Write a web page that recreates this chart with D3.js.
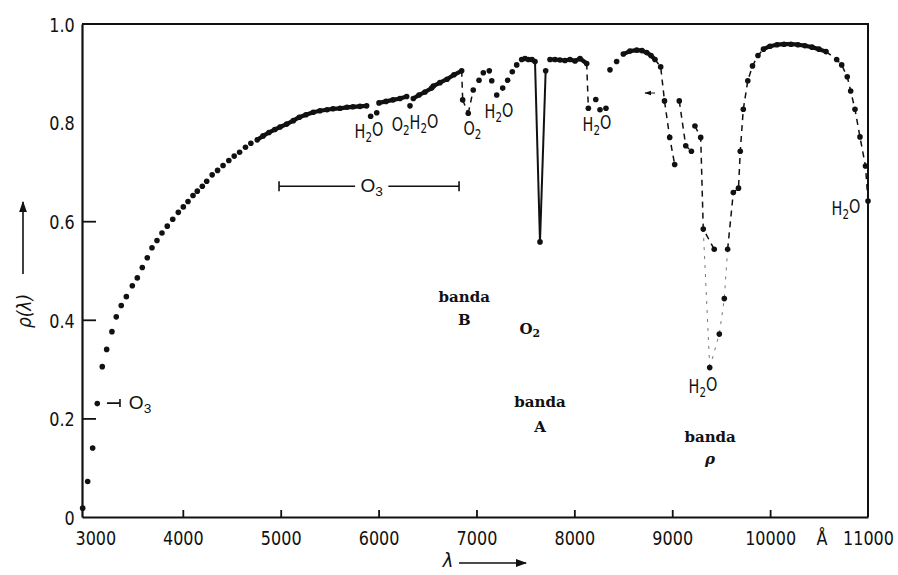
<!DOCTYPE html>
<html><head><meta charset="utf-8">
<script src="https://cdn.jsdelivr.net/npm/d3@7"></script>
<style>body{margin:0;background:#fff} svg{display:block}</style>
</head><body><svg id="c" width="898" height="575"></svg>
<script>
// ---- data ----
const wavelength = [2977,3028,3079,3126,3177,3222,3276,3320,3371,3423,3484,3535,3586,3637,3685,3736,3787,3841,3897,3954,4005,4053,4104,4148,4199,4244,
  4300,4355,4411,4470,4525,4580,4640,4695,4760,4820,4880,4940,4993,5061,5129,5190,5258,5333,5401,5473,5534,5606,5677,5738,5810,5878,
  5919,5981,6004,6076,6147,6219,6287,6321,6355,6413,6474,6542,6559,6627,6699,6770,6849,
  6859,6916,6967,7026,7070,7131,7156,7207,7268,7319,7366,7411,7462,7496,7530,7567,7598,
  7649,7707,7751,7802,7853,7904,7956,8007,8058,8126,8143,8219,8262,8323,
  8364,8432,8500,8568,8637,8691,8739,8783,8824,8882,
  8921,9072,8974,9025,9138,9196,9232,9291,9317,9429,9566,9532,9481,9383,9624,9677,9695,9726,9772,9820,9876,9932,
  9999,10070,10142,10213,10285,10356,10428,10499,10571,10680,10731,10788,10823,10867,10918,10974,11000];
const reflectance = [0.018,0.072,0.140,0.230,0.305,0.340,0.376,0.406,0.429,0.447,0.469,0.485,0.506,0.526,0.546,0.561,0.576,0.590,0.604,0.618,0.629,0.640,0.652,0.661,0.671,0.681,
  0.694,0.703,0.713,0.723,0.732,0.740,0.750,0.758,0.765,0.773,0.780,0.786,0.791,0.797,0.804,0.811,0.816,0.821,0.824,0.826,0.828,0.829,0.831,0.832,0.833,0.834,
  0.813,0.820,0.840,0.843,0.846,0.849,0.853,0.834,0.849,0.856,0.862,0.870,0.874,0.881,0.888,0.897,0.905,
  0.846,0.819,0.866,0.886,0.901,0.905,0.885,0.856,0.870,0.886,0.903,0.917,0.928,0.930,0.928,0.928,0.924,
  0.558,0.905,0.928,0.928,0.927,0.926,0.928,0.925,0.930,0.920,0.829,0.847,0.826,0.829,
  0.907,0.924,0.939,0.945,0.947,0.946,0.942,0.936,0.928,0.913,
  0.844,0.844,0.770,0.715,0.753,0.742,0.793,0.770,0.584,0.543,0.543,0.443,0.371,0.303,0.658,0.667,0.742,0.827,0.885,0.915,0.936,0.949,
  0.955,0.958,0.959,0.959,0.958,0.956,0.953,0.949,0.944,0.928,0.917,0.893,0.864,0.827,0.771,0.712,0.641];
// runs where the points merge into a continuous trace
const solidRuns = [[4700,5878],[6004,6287],[6355,6542],[6559,6849],[7462,7598],[7751,8126],[8500,8824],[9932,10571]];
// thin connectors of the O2 A band
const thinChains = [[7598,7649],[7649,7707]];
// dashed connectors inside absorption bands
const dashedChains = [[6849,6859],[6859,6916],[6916,6967],[8126,8143],[8824,8882,8921,8974,9025],[9072,9138,9196],
  [9232,9291,9317,9429],[9566,9624,9677,9695,9726,9772,9820,9876,9932],[10571,10680,10731,10788,10823,10867,10918,10974,11000]];
// faint dotted connectors at the bottom of the rho band
const faintChains = [[9317,9383],[9383,9481,9532,9566]];
const xTicks = [3000,4000,5000,6000,7000,8000,9000,10000,11000];
const xTickLabels = ["3000","4000","5000","6000","7000","8000","9000","10000","11000"];
const xInnerTicks = [4000,5000,6000,7000,8000,9000,10000];
const yTicks = [0,0.2,0.4,0.6,0.8,1.0];
const yTickLabels = ["0","0.2","0.4","0.6","0.8","1.0"];
const yInnerTicks = [0.2,0.4,0.6];
// molecule labels (condensed), at [wavelength, rho]
const moleculeText = ["H₂O","O₂H₂O","O₂","H₂O","H₂O","H₂O","H₂O"];
const moleculeLam  = [5902,6372,6959,7230,8231,9314,10775];
const moleculeRho  = [0.769,0.783,0.775,0.809,0.783,0.252,0.613];
// band labels (bold serif)
const bandText = ["banda","B","O₂","banda","A","banda","ρ"];
const bandLam  = [6875,6875,7545,7649,7649,9387,9387];
const bandRho  = [0.436,0.389,0.371,0.223,0.172,0.152,0.108];

// ---- drawing ----
const svg = d3.select("#c");
const x = d3.scaleLinear().domain([2970, 11000]).range([82, 868]);
const y = d3.scaleLinear().domain([0, 1]).range([517, 24]);
const ink = "#111";
const pts = wavelength.map((w,i)=>({w, r: reflectance[i]}));
const byW = new Map(pts.map(p=>[p.w,p]));
const subMap = {"₂":"2","₃":"3"};
function withSubs(textSel, str){
  let lowered = false;
  for (const ch of str){
    const isSub = ch in subMap;
    const ts = textSel.append("tspan").text(isSub ? subMap[ch] : ch);
    if (isSub && !lowered){ ts.attr("dy","0.28em").attr("font-size","72%"); lowered = true; }
    else if (isSub){ ts.attr("font-size","72%"); }
    else if (lowered){ ts.attr("dy","-0.28em"); lowered = false; }
  }
  return textSel;
}

// frame (top & right)
svg.append("path").attr("d", `M${x(2970)},${y(1)}H${x(11000)}V${y(0)}`)
  .attr("fill","none").attr("stroke",ink).attr("stroke-width",2);

// axes
const condensed = "scale(0.8,1)";
const gx = svg.append("g").attr("transform",`translate(0,${y(0)})`)
  .call(d3.axisBottom(x).tickValues(xTicks).tickSize(0).tickSizeOuter(0).tickFormat((d,i)=>xTickLabels[i]));
gx.select(".domain").attr("stroke",ink).attr("stroke-width",2.2);
gx.selectAll("text").attr("y",28).attr("dy",0).attr("font-size",20)
  .attr("font-family","DejaVu Sans, sans-serif").attr("fill",ink).attr("transform",condensed)
  .attr("dx",(d)=> d===3000 ? 13 : 0);
svg.append("g").attr("transform",`translate(0,${y(0)})`)
  .call(d3.axisBottom(x).tickValues(xInnerTicks).tickSize(-7).tickFormat(""))
  .call(g=>g.select(".domain").remove())
  .selectAll("line").attr("stroke",ink).attr("stroke-width",1.8);

const gy = svg.append("g").attr("transform",`translate(${x(2970)},0)`)
  .call(d3.axisLeft(y).tickValues(yTicks).tickSize(0).tickSizeOuter(0).tickFormat((d,i)=>yTickLabels[i]));
gy.select(".domain").attr("stroke",ink).attr("stroke-width",2.2);
gy.selectAll("text").attr("x",-9).attr("dy","0.36em").attr("font-size",20)
  .attr("font-family","DejaVu Sans, sans-serif").attr("fill",ink).attr("transform",condensed);
svg.append("g").attr("transform",`translate(${x(2970)},0)`)
  .call(d3.axisLeft(y).tickValues(yInnerTicks).tickSize(-14).tickFormat(""))
  .call(g=>g.select(".domain").remove())
  .selectAll("line").attr("stroke",ink).attr("stroke-width",1.8);

// arrow marker
svg.append("defs").append("marker").attr("id","ah").attr("viewBox","0 0 10 10")
  .attr("refX",9).attr("refY",5).attr("markerWidth",7).attr("markerHeight",7).attr("orient","auto")
  .append("path").attr("d","M0,1.5L10,5L0,8.5Z").attr("fill",ink);

// axis titles
svg.append("text").attr("transform","translate(448,567) scale(0.9,1)").attr("text-anchor","middle")
  .attr("font-family","DejaVu Sans, sans-serif").attr("font-style","italic").attr("font-size",20).attr("fill",ink).text("λ");
svg.append("line").attr("x1",459).attr("y1",563).attr("x2",526).attr("y2",563)
  .attr("stroke",ink).attr("stroke-width",1.6).attr("marker-end","url(#ah)");
svg.append("text").attr("transform","translate(31,311) rotate(-90) scale(0.85,1)").attr("text-anchor","middle")
  .attr("font-family","DejaVu Sans, sans-serif").attr("font-style","italic").attr("font-size",20).attr("fill",ink).text("ρ(λ)");
svg.append("line").attr("x1",23).attr("y1",274).attr("x2",23).attr("y2",202)
  .attr("stroke",ink).attr("stroke-width",1.6).attr("marker-end","url(#ah)");

// connectors
const line = d3.line().x(p=>x(p.w)).y(p=>y(p.r));
solidRuns.forEach(([a,b])=>{
  svg.append("path").attr("d", line(pts.filter(p=>p.w>=a && p.w<=b).sort((p,q)=>p.w-q.w)))
    .attr("fill","none").attr("stroke",ink).attr("stroke-width",4.2).attr("stroke-linecap","round").attr("stroke-linejoin","round");
});
thinChains.forEach(ch=>{
  svg.append("path").attr("d", line(ch.map(w=>byW.get(w)))).attr("fill","none").attr("stroke",ink).attr("stroke-width",2);
});
dashedChains.forEach(ch=>{
  svg.append("path").attr("d", line(ch.map(w=>byW.get(w)))).attr("fill","none").attr("stroke",ink)
    .attr("stroke-width",1.5).attr("stroke-dasharray","6,5");
});
faintChains.forEach(ch=>{
  svg.append("path").attr("d", line(ch.map(w=>byW.get(w)))).attr("fill","none").attr("stroke","#777")
    .attr("stroke-width",1).attr("stroke-dasharray","3,6");
});

// points
svg.append("g").selectAll("circle").data(pts).join("circle")
  .attr("cx",p=>x(p.w)).attr("cy",p=>y(p.r)).attr("r",2.8).attr("fill",ink);

// small arrow near 8800
svg.append("line").attr("x1",x(8824)).attr("y1",y(0.86)).attr("x2",x(8722)).attr("y2",y(0.86))
  .attr("stroke",ink).attr("stroke-width",1).attr("marker-end","url(#ah)");

// O3 range bracket
const o3y = y(0.671);
svg.append("path").attr("d",`M${x(4983)},${o3y-5}V${o3y+5}M${x(4983)},${o3y}H${x(5760)}M${x(6100)},${o3y}H${x(6822)}M${x(6822)},${o3y-5}V${o3y+5}`)
  .attr("fill","none").attr("stroke",ink).attr("stroke-width",1.6);
withSubs(svg.append("text").attr("x",x(5930)).attr("y",o3y+6).attr("text-anchor","middle")
  .attr("font-family","Liberation Sans, Arial, sans-serif").attr("font-size",19).attr("fill",ink), "O₃");
// O3 edge near 3100
const o3b = y(0.231);
svg.append("path").attr("d",`M${x(3225)},${o3b}H${x(3358)}M${x(3358)},${o3b-4}V${o3b+4}`)
  .attr("fill","none").attr("stroke",ink).attr("stroke-width",1.6);
withSubs(svg.append("text").attr("x",x(3563)).attr("y",o3b+6).attr("text-anchor","middle")
  .attr("font-family","Liberation Sans, Arial, sans-serif").attr("font-size",19).attr("fill",ink), "O₃");

// molecule labels
moleculeText.forEach((t,i)=>{
  withSubs(svg.append("text").attr("transform",`translate(${x(moleculeLam[i])},${y(moleculeRho[i])}) scale(0.72,1)`)
    .attr("text-anchor","middle").attr("font-family","DejaVu Sans, sans-serif").attr("font-size",20).attr("fill",ink), t);
});
// band labels
bandText.forEach((t,i)=>{
  withSubs(svg.append("text").attr("x",x(bandLam[i])).attr("y",y(bandRho[i])).attr("text-anchor","middle")
    .attr("font-family","DejaVu Serif, serif").attr("font-weight","bold").attr("font-size",15)
    .attr("font-style", t==="ρ" ? "italic" : "normal").attr("fill",ink), t);
});
// Angstrom unit
svg.append("text").attr("transform",`translate(${x(10530)},545) scale(0.8,1)`).attr("text-anchor","middle")
  .attr("font-family","DejaVu Sans, sans-serif").attr("font-size",20).attr("fill",ink).text("Å");
</script></body></html>
